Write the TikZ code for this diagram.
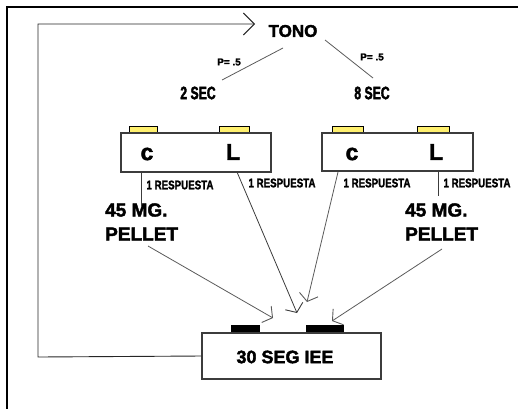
\documentclass[tikz,border=0pt]{standalone}
\usepackage{fontspec}
\setmainfont{Liberation Sans}[BoldFeatures={FakeBold=2}]
\newfontfamily\narrowA{Liberation Sans}[FakeStretch=0.68,BoldFeatures={FakeBold=2}]
\newfontfamily\narrowB{Liberation Sans}[FakeStretch=0.78,BoldFeatures={FakeBold=1.5}]
\usetikzlibrary{arrows.meta}
\definecolor{padyellow}{RGB}{255,240,110}
\definecolor{boxgray}{RGB}{60,60,60}
\definecolor{linegray}{RGB}{90,90,90}
\tikzset{
  txt/.style={inner sep=0pt, font=\bfseries},
  bigtxt/.style={txt, font=\fontsize{17}{18}\selectfont\bfseries},
  secttxt/.style={txt, font=\narrowA\fontsize{18}{19}\selectfont\bfseries},
  keytxt/.style={txt, font=\fontsize{23}{24}\selectfont\bfseries},
  pelltxt/.style={txt, anchor=west, font=\fontsize{19}{20}\selectfont\bfseries},
  resptxt/.style={txt, font=\narrowB\fontsize{12.5}{13}\selectfont\bfseries},
  ptxt/.style={txt, font=\fontsize{10}{11}\selectfont\bfseries},
  chamber/.style={draw=boxgray, line width=1.2pt, fill=white, inner sep=0pt},
  lever/.style={draw=black, line width=0.8pt, fill=padyellow, inner sep=0pt},
  blackpad/.style={draw=black, fill=black, inner sep=0pt},
  conn/.style={draw=linegray, line width=0.8pt},
  barb/.style={conn, -{Straight Barb[length=7pt,width=19pt,line width=0.9pt]}},
}
\begin{document}
\begin{tikzpicture}[x=1pt,y=-1pt]
\useasboundingbox (0,0) rectangle (518,408);
% frame
\draw[line width=2.5pt, black] (6.8,410) -- (6.8,7) -- (520,7);

% top
\node[bigtxt] (tono) at (293,31) {TONO};
\node[secttxt] (sec2) at (198,93) {2 SEC};
\node[secttxt] (sec8) at (372,93) {8 SEC};
\node[ptxt] (p1) at (229,62) {P= .5};
\node[ptxt] (p2) at (372,57) {P= .5};
\coordinate (t1) at (283,48);
\coordinate (s2) at (222,80);
\coordinate (t2) at (325,40);
\coordinate (s8) at (373,78);
\draw[conn] (t1) -- (s2);
\draw[conn] (t2) -- (s8);

% chambers
\node[lever, minimum width=28pt, minimum height=7pt] (yl1) at (143,129.5) {};
\node[lever, minimum width=30pt, minimum height=7pt] (yl2) at (234,129.5) {};
\node[lever, minimum width=31pt, minimum height=7pt] (yr1) at (347.5,129.5) {};
\node[lever, minimum width=32pt, minimum height=7pt] (yr2) at (433,129.5) {};
\node[chamber, minimum width=150pt, minimum height=39pt] (boxL) at (196,152.5) {};
\node[chamber, minimum width=151pt, minimum height=38pt] (boxR) at (397.5,152) {};
\node[keytxt] (cL) at (147,154) {c};
\node[keytxt] (lL) at (233,152) {L};
\node[keytxt] (cR) at (352,154) {c};
\node[keytxt] (lR) at (436,152) {L};

% response labels
\node[resptxt] (r1) at (180,185) {1 RESPUESTA};
\node[resptxt] (r2) at (282,183) {1 RESPUESTA};
\node[resptxt] (r3) at (377,183) {1 RESPUESTA};
\node[resptxt] (r4) at (477,183) {1 RESPUESTA};

% pellets
\node[pelltxt] (mg1) at (105,210) {45 MG.};
\node[pelltxt] (pel1) at (105,234) {PELLET};
\node[pelltxt] (mg2) at (405,210) {45 MG.};
\node[pelltxt] (pel2) at (405,234) {PELLET};

% bottom box
\node[blackpad, minimum width=28pt, minimum height=8pt] (bp1) at (245,329) {};
\node[blackpad, minimum width=37pt, minimum height=8pt] (bp2) at (324.5,329) {};
\node[chamber, minimum width=179pt, minimum height=46pt] (iee) at (291.5,356) {};
\node[txt, font=\fontsize{18}{19}\selectfont\bfseries] (ieetxt) at (285,357) {30 SEG IEE};

% connectors from chambers
\coordinate (cLb) at (141,172);
\coordinate (cLe) at (141,207);
\draw[draw=boxgray, line width=0.9pt] (cLb) -- (cLe);
\coordinate (lRb) at (438,171);
\coordinate (lRe) at (438,196);
\draw[draw=boxgray, line width=0.9pt] (lRb) -- (lRe);

\coordinate (lLb) at (237,172);
\coordinate (tipA) at (297,313);
\draw[barb, draw=boxgray] (lLb) -- (tipA);
\coordinate (cRb) at (338,172);
\coordinate (tipB) at (307,302);
\draw[barb] (cRb) -- (tipB);

\coordinate (pel1s) at (148,246);
\coordinate (tipC) at (273,318);
\draw[barb] (pel1s) -- (tipC);
\coordinate (pel2s) at (442,249);
\coordinate (tipD) at (332,321);
\draw[barb] (pel2s) -- (tipD);

% loop back to tone
\coordinate (lp1) at (38,357);
\coordinate (lp2) at (38,24);
\coordinate (tipE) at (255,24);
\draw[draw=black!85, line width=0.9pt, -{Straight Barb[length=11pt,width=22pt,line width=0.9pt]}]
  (iee.west) -- (lp1) -- (lp2) -- (tipE);
\end{tikzpicture}
\end{document}
